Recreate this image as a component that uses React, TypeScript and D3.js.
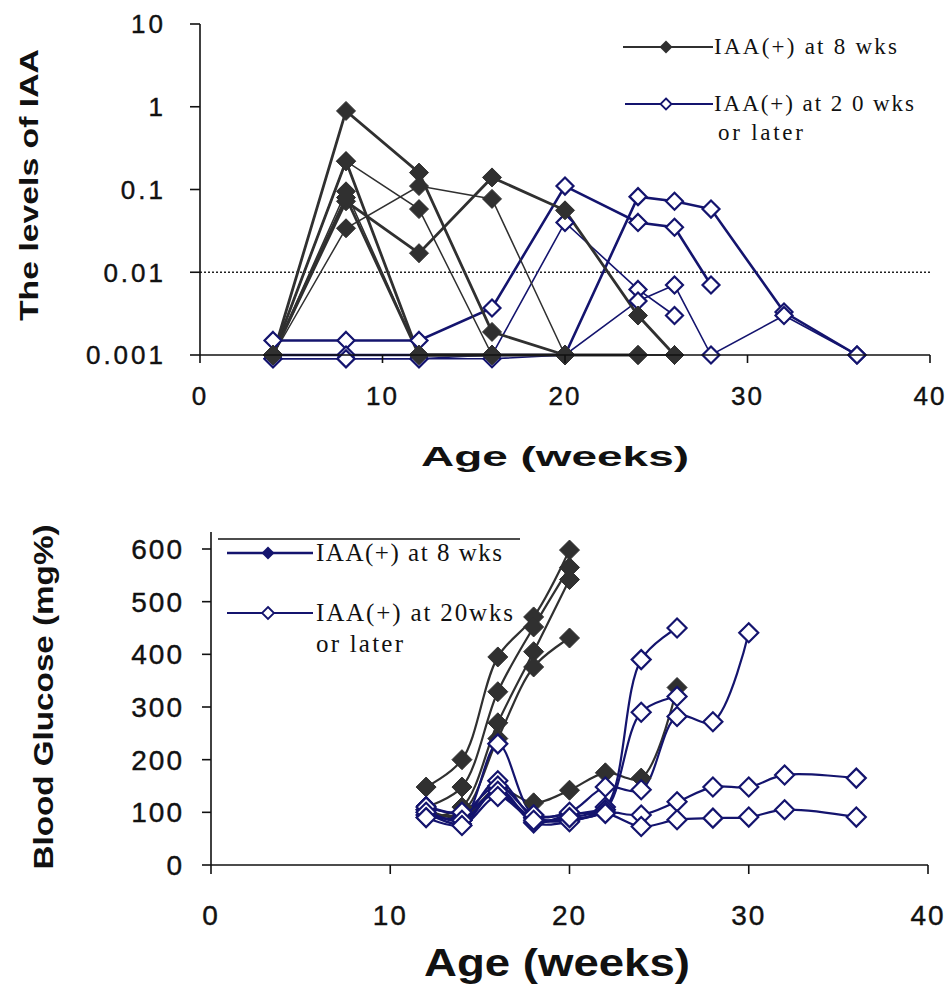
import React from "react";
import * as d3 from "d3";

// ---- top panel: IAA levels (log scale) ----
const iaaEarly: [number, number][][] = [
  [[4, 0.001], [8, 0.89], [12, 0.16], [16, 0.0019], [20, 0.001]],
  [[4, 0.001], [8, 0.22], [12, 0.058], [16, 0.001], [20, 0.001]],
  [[4, 0.001], [8, 0.22], [12, 0.001], [16, 0.001]],
  [[4, 0.001], [8, 0.034], [12, 0.11], [16, 0.077], [20, 0.001], [24, 0.001], [26, 0.001]],
  [[4, 0.001], [8, 0.072], [12, 0.017], [16, 0.14], [20, 0.056], [24, 0.003], [26, 0.001]],
  [[4, 0.001], [8, 0.095], [12, 0.001], [16, 0.001], [20, 0.001]],
  [[4, 0.001], [8, 0.08], [12, 0.001], [16, 0.001], [20, 0.001], [24, 0.001]],
];

const iaaLate: [number, number][][] = [
  [[4, 0.0015], [8, 0.0015], [12, 0.0015], [16, 0.0037], [20, 0.11], [24, 0.04], [26, 0.035], [28, 0.007]],
  [[4, 0.0009], [8, 0.0009], [12, 0.0009], [16, 0.001], [20, 0.04], [24, 0.0062], [26, 0.003]],
  [[4, 0.001], [8, 0.001], [12, 0.001], [16, 0.001], [20, 0.001], [24, 0.082], [26, 0.072], [28, 0.058], [32, 0.0033], [36, 0.001]],
  [[4, 0.0009], [8, 0.0009], [12, 0.0009], [16, 0.0009], [20, 0.001], [24, 0.0045], [26, 0.007], [28, 0.001], [32, 0.003], [36, 0.001]],
];

const iaaTicks = [0.001, 0.01, 0.1, 1, 10];
const iaaTickLabels = ["0.001", "0.01", "0.1", "1", "10"];
const cutoff = 0.01;

// ---- bottom panel: blood glucose ----
const glucoseEarly: [number, number][][] = [
  [[12, 148], [14, 200], [16, 395], [18, 471], [20, 598]],
  [[12, 110], [14, 148], [16, 329], [18, 452], [20, 565]],
  [[12, 90], [14, 110], [16, 270], [18, 405], [20, 542]],
  [[12, 95], [14, 100], [16, 240], [18, 376], [20, 431]],
  [[12, 105], [14, 90], [16, 145], [18, 118], [20, 142], [22, 175], [24, 165], [26, 337]],
];

const glucoseEarlyNavy: [number, number][][] = [
  [[12, 100], [14, 78], [16, 145], [18, 82], [20, 95], [22, 105]],
  [[12, 112], [14, 98], [16, 135], [18, 88], [20, 84], [22, 100]],
];

const glucoseLate: [number, number][][] = [
  [[12, 105], [14, 85], [16, 230], [18, 95], [20, 98], [22, 110], [24, 390], [26, 450]],
  [[12, 95], [14, 90], [16, 160], [18, 90], [20, 88], [22, 105], [24, 290], [26, 320]],
  [[12, 110], [14, 100], [16, 150], [18, 95], [20, 100], [22, 148], [24, 143], [26, 282], [28, 272], [30, 441]],
  [[12, 100], [14, 85], [16, 140], [18, 80], [20, 82], [22, 100], [24, 95], [26, 120], [28, 148], [30, 148], [32, 171], [36, 165]],
  [[12, 90], [14, 75], [16, 130], [18, 85], [20, 90], [22, 98], [24, 73], [26, 86], [28, 89], [30, 91], [32, 105], [36, 91]],
];

const glucoseTicks = [0, 100, 200, 300, 400, 500, 600];
const ageTicks = [0, 10, 20, 30, 40];

const GRAY = "#303030";
const NAVY = "#14146e";

const diamond = (r: number) => `M0,${-r}L${r},0L0,${r}L${-r},0Z`;

export default function App() {
  const xT = d3.scaleLinear().domain([0, 40]).range([200, 930]);
  const yT = d3.scaleLog().domain([0.001, 10]).range([355, 24]);
  const xB = d3.scaleLinear().domain([0, 40]).range([211, 928]);
  const yB = d3.scaleLinear().domain([0, 600]).range([865, 549]);

  const lineT = d3.line<[number, number]>().x((d) => xT(d[0])).y((d) => yT(d[1]));
  const lineB = d3
    .line<[number, number]>()
    .x((d) => xB(d[0]))
    .y((d) => yB(d[1]))
    .curve(d3.curveCatmullRom.alpha(0.5));

  const tickFont = { fontFamily: "Liberation Sans, Arial, sans-serif", fill: "#111" };
  const serif = { fontFamily: "Liberation Serif, Times New Roman, serif", fill: "#111" };

  return (
    <svg
      width={951}
      height={989}
      style={{ position: "absolute", left: 0, top: 0, background: "#fff" }}
    >
      {/* ===== top panel ===== */}
      <g>
        <line x1={xT(0)} x2={xT(40)} y1={yT(cutoff)} y2={yT(cutoff)} stroke="#222" strokeWidth={1.3} strokeDasharray="2,2" />

        {iaaLate.map((s, i) => (
          <path key={"tl" + i} d={lineT(s)!} fill="none" stroke={NAVY} strokeWidth={i % 2 ? 1.6 : 2.6} />
        ))}
        {iaaEarly.map((s, i) => (
          <path key={"te" + i} d={lineT(s)!} fill="none" stroke={GRAY} strokeWidth={i % 2 ? 1.5 : 2.8} />
        ))}
        {iaaLate.map((s, i) =>
          s.map((d, j) => (
            <path key={`tlm${i}-${j}`} d={diamond(8.5)} transform={`translate(${xT(d[0])},${yT(d[1])})`} fill="#fff" stroke={NAVY} strokeWidth={2.2} />
          ))
        )}
        {iaaEarly.map((s, i) =>
          s.map((d, j) => (
            <path key={`tem${i}-${j}`} d={diamond(9.5)} transform={`translate(${xT(d[0])},${yT(d[1])})`} fill={GRAY} stroke={GRAY} strokeWidth={1} />
          ))
        )}

        {/* axes */}
        <line x1={xT(0)} x2={xT(0)} y1={yT(10)} y2={yT(0.001)} stroke="#111" strokeWidth={1.6} />
        <line x1={xT(0)} x2={xT(40)} y1={yT(0.001)} y2={yT(0.001)} stroke="#111" strokeWidth={1.6} />
        {iaaTicks.map((t, i) => (
          <g key={"yt" + t}>
            <line x1={xT(0) - 10} x2={xT(0)} y1={yT(t)} y2={yT(t)} stroke="#111" strokeWidth={1.6} />
            <text x={166} y={yT(t)} dy="0.36em" textAnchor="end" fontSize={26} letterSpacing={3} stroke="#111" strokeWidth={0.4} {...tickFont}>
              {iaaTickLabels[i]}
            </text>
          </g>
        ))}
        {ageTicks.map((t) => (
          <g key={"xt" + t}>
            <line x1={xT(t)} x2={xT(t)} y1={yT(0.001)} y2={yT(0.001) + 8} stroke="#111" strokeWidth={1.6} />
            <text x={xT(t)} y={405} textAnchor="middle" fontSize={26} letterSpacing={2} stroke="#111" strokeWidth={0.4} {...tickFont}>
              {t}
            </text>
          </g>
        ))}
        <text x={555} y={466} textAnchor="middle" fontSize={28} fontWeight="bold" textLength={268} lengthAdjust="spacingAndGlyphs" {...tickFont}>
          Age (weeks)
        </text>
        <text transform="translate(38,185) rotate(-90)" textAnchor="middle" fontSize={26} fontWeight="bold" textLength={272} lengthAdjust="spacingAndGlyphs" {...tickFont}>
          The levels of IAA
        </text>

        {/* legend */}
        <line x1={623} x2={713} y1={47} y2={47} stroke={GRAY} strokeWidth={1.8} />
        <path d={diamond(6.5)} transform="translate(666,47)" fill={GRAY} />
        <text x={714} y={54} fontSize={23} textLength={183} lengthAdjust="spacing" {...serif}>IAA(+) at 8 wks</text>
        <line x1={625} x2={713} y1={104} y2={104} stroke={NAVY} strokeWidth={1.8} />
        <path d={diamond(5.5)} transform="translate(666,104)" fill="#fff" stroke={NAVY} strokeWidth={1.8} />
        <text x={714} y={111} fontSize={23} textLength={200} lengthAdjust="spacing" {...serif}>IAA(+) at 2 0 wks</text>
        <text x={718} y={140} fontSize={23} textLength={85} lengthAdjust="spacing" {...serif}>or later</text>
      </g>

      {/* ===== bottom panel ===== */}
      <g>
        {glucoseEarly.map((s, i) => (
          <path key={"be" + i} d={lineB(s)!} fill="none" stroke={GRAY} strokeWidth={2.2} />
        ))}
        {glucoseEarlyNavy.map((s, i) => (
          <path key={"bn" + i} d={lineB(s)!} fill="none" stroke={NAVY} strokeWidth={2.6} />
        ))}
        {glucoseLate.map((s, i) => (
          <path key={"bl" + i} d={lineB(s)!} fill="none" stroke={NAVY} strokeWidth={2.2} />
        ))}
        {glucoseEarly.map((s, i) =>
          s.map((d, j) => (
            <path key={`bem${i}-${j}`} d={diamond(10)} transform={`translate(${xB(d[0])},${yB(d[1])})`} fill={GRAY} stroke={GRAY} strokeWidth={1} />
          ))
        )}
        {glucoseEarlyNavy.map((s, i) =>
          s.map((d, j) => (
            <path key={`bnm${i}-${j}`} d={diamond(10)} transform={`translate(${xB(d[0])},${yB(d[1])})`} fill={NAVY} stroke={NAVY} strokeWidth={1} />
          ))
        )}
        {glucoseLate.map((s, i) =>
          s.map((d, j) => (
            <path key={`blm${i}-${j}`} d={diamond(9.5)} transform={`translate(${xB(d[0])},${yB(d[1])})`} fill="#fff" stroke={NAVY} strokeWidth={2.2} />
          ))
        )}

        {/* axes */}
        <line x1={xB(0)} x2={xB(0)} y1={532} y2={yB(0)} stroke="#111" strokeWidth={1.6} />
        <line x1={xB(0)} x2={xB(40)} y1={yB(0)} y2={yB(0)} stroke="#111" strokeWidth={1.6} />
        {glucoseTicks.map((t) => (
          <g key={"byt" + t}>
            <line x1={xB(0) - 9} x2={xB(0)} y1={yB(t)} y2={yB(t)} stroke="#111" strokeWidth={1.6} />
            <text x={184} y={yB(t)} dy="0.36em" textAnchor="end" fontSize={28} letterSpacing={2} stroke="#111" strokeWidth={0.4} {...tickFont}>
              {t}
            </text>
          </g>
        ))}
        {ageTicks.map((t) => (
          <g key={"bxt" + t}>
            <line x1={xB(t)} x2={xB(t)} y1={yB(0)} y2={yB(0) + 9} stroke="#111" strokeWidth={1.6} />
            <text x={xB(t)} y={925} textAnchor="middle" fontSize={28} letterSpacing={2} stroke="#111" strokeWidth={0.4} {...tickFont}>
              {t}
            </text>
          </g>
        ))}
        <text x={557} y={976} textAnchor="middle" fontSize={38} fontWeight="bold" textLength={266} lengthAdjust="spacingAndGlyphs" {...tickFont}>
          Age (weeks)
        </text>
        <text transform="translate(53,697) rotate(-90)" textAnchor="middle" fontSize={27} fontWeight="bold" textLength={345} lengthAdjust="spacingAndGlyphs" {...tickFont}>
          Blood Glucose (mg%)
        </text>

        {/* legend */}
        <line x1={218} x2={520} y1={539} y2={539} stroke="#111" strokeWidth={1.6} />
        <line x1={227} x2={313} y1={553} y2={553} stroke={NAVY} strokeWidth={2.6} />
        <path d={diamond(6.5)} transform="translate(268,553)" fill={NAVY} />
        <text x={316} y={561} fontSize={25} textLength={186} lengthAdjust="spacing" {...serif}>IAA(+) at 8 wks</text>
        <line x1={227} x2={313} y1={613} y2={613} stroke={NAVY} strokeWidth={2} />
        <path d={diamond(6)} transform="translate(268,613)" fill="#fff" stroke={NAVY} strokeWidth={1.8} />
        <text x={316} y={621} fontSize={25} textLength={197} lengthAdjust="spacing" {...serif}>IAA(+) at 20wks</text>
        <text x={316} y={652} fontSize={25} textLength={87} lengthAdjust="spacing" {...serif}>or later</text>
      </g>
    </svg>
  );
}
